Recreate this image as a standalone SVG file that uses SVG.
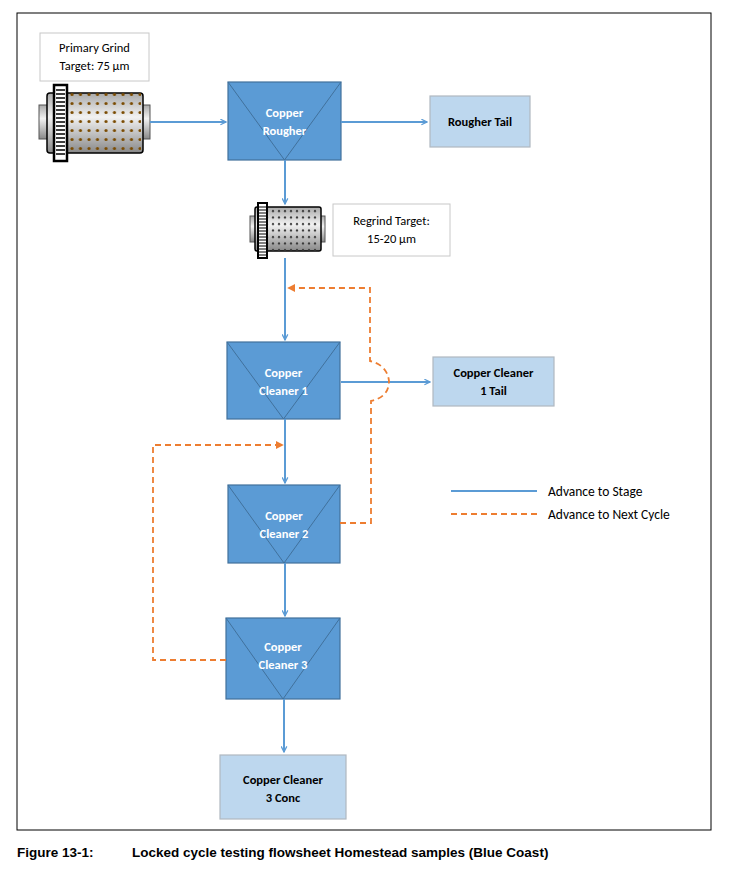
<svg xmlns="http://www.w3.org/2000/svg" width="730" height="876" viewBox="0 0 730 876">
<defs>
<style>
.cell{fill:#5b9bd5;stroke:#41719c;stroke-width:1.2}
.tri{fill:none;stroke:#41719c;stroke-width:1}
.wt{font-family:Calibri,"Carlito","Liberation Sans",sans-serif;font-weight:bold;font-size:12.5px;fill:#fff;text-anchor:middle}
.out{fill:#bdd7ee;stroke:#b0b8c0;stroke-width:1.2}
.bt{font-family:Calibri,"Carlito","Liberation Sans",sans-serif;font-weight:bold;font-size:12.5px;fill:#000;text-anchor:middle}
.lbl{fill:#fff;stroke:#c8c8c8;stroke-width:1}
.nt{font-family:Calibri,"Carlito","Liberation Sans",sans-serif;font-size:12.5px;fill:#000;text-anchor:middle}
.blue{stroke:#5b9bd5;stroke-width:2;fill:none}
.orange{stroke:#ed7d31;stroke-width:1.8;fill:none;stroke-dasharray:6,4}
</style>
<marker id="ab" viewBox="0 0 10 10" refX="9" refY="5" markerWidth="7" markerHeight="7" orient="auto" markerUnits="userSpaceOnUse"><path d="M1,1 L9,5 L1,9" fill="none" stroke="#5b9bd5" stroke-width="1.8"/></marker>
<marker id="ao" viewBox="0 0 10 10" refX="9" refY="5" markerWidth="8" markerHeight="8" orient="auto" markerUnits="userSpaceOnUse"><path d="M0,0 L10,5 L0,10 z" fill="#ed7d31"/></marker>
<linearGradient id="drum" x1="0" y1="0" x2="0" y2="1"><stop offset="0" stop-color="#aaa"/><stop offset="0.4" stop-color="#f2f2f2"/><stop offset="1" stop-color="#888"/></linearGradient>
<pattern id="dots" width="8.5" height="9" patternUnits="userSpaceOnUse"><circle cx="4" cy="4.5" r="1.6" fill="#7a4a00"/></pattern>
<pattern id="dots2" width="6" height="6.5" patternUnits="userSpaceOnUse"><circle cx="3" cy="3" r="1.1" fill="#333"/></pattern>
</defs>
<rect x="17" y="13" width="694" height="817" fill="none" stroke="#000" stroke-width="1"/>

<g id="primary-grind">
<rect class="lbl" x="40" y="33" width="109" height="48"/>
<text class="nt" x="94.5" y="52">Primary Grind</text>
<text class="nt" x="94.5" y="70">Target: 75 µm</text>
<rect x="39" y="105" width="10" height="34" fill="url(#drum)" stroke="#555"/>
<rect x="140" y="105" width="10" height="34" fill="url(#drum)" stroke="#555"/>
<rect x="47" y="93" width="96" height="60" rx="3" fill="url(#drum)" stroke="#000" stroke-width="1.5"/>
<rect x="68" y="93" width="73" height="60" fill="url(#dots)"/>
<rect x="54" y="85" width="13" height="76" fill="#fff" stroke="#000" stroke-width="2.5"/>
<path d="M56,90H65M56,94H65M56,98H65M56,102H65M56,106H65M56,110H65M56,114H65M56,118H65M56,122H65M56,126H65M56,130H65M56,134H65M56,138H65M56,142H65M56,146H65M56,150H65M56,154H65" stroke="#000" stroke-width="1.5"/>
</g>

<g id="rougher">
<rect class="cell" x="228" y="82" width="113" height="78"/>
<path class="tri" d="M228,82 L284.5,160 L341,82"/>
<text class="wt" x="284.5" y="117">Copper</text>
<text class="wt" x="284.5" y="135">Rougher</text>
</g>

<g id="rougher-tail">
<rect class="out" x="430" y="96" width="100" height="51"/>
<text class="bt" x="480" y="126">Rougher Tail</text>
</g>

<g id="regrind">
<rect x="250" y="216" width="7" height="26" fill="url(#drum)" stroke="#555"/>
<rect x="318" y="216" width="7" height="26" fill="url(#drum)" stroke="#555"/>
<rect x="255" y="207" width="66" height="44" rx="2" fill="url(#drum)" stroke="#000" stroke-width="1.5"/>
<rect x="267" y="207" width="52" height="44" fill="url(#dots2)"/>
<rect x="258" y="203" width="9" height="55" fill="#fff" stroke="#000" stroke-width="2"/>
<path d="M259,207H266M259,210H266M259,213H266M259,216H266M259,219H266M259,222H266M259,225H266M259,228H266M259,231H266M259,234H266M259,237H266M259,240H266M259,243H266M259,246H266M259,249H266M259,252H266M259,255H266" stroke="#000" stroke-width="1.2"/>
<rect class="lbl" x="333" y="204" width="117" height="52"/>
<text class="nt" x="391.5" y="225">Regrind Target:</text>
<text class="nt" x="391.5" y="243">15-20 µm</text>
</g>

<g id="cleaner1">
<rect class="cell" x="227" y="342" width="113" height="77"/>
<path class="tri" d="M227,342 L283.5,419 L340,342"/>
<text class="wt" x="283.5" y="377">Copper</text>
<text class="wt" x="283.5" y="395">Cleaner 1</text>
</g>

<g id="cleaner1-tail">
<rect class="out" x="433" y="357" width="121" height="49"/>
<text class="bt" x="493.5" y="377">Copper Cleaner</text>
<text class="bt" x="493.5" y="395">1 Tail</text>
</g>

<g id="cleaner2">
<rect class="cell" x="228" y="485" width="112" height="78"/>
<path class="tri" d="M228,485 L284,563 L340,485"/>
<text class="wt" x="284" y="520">Copper</text>
<text class="wt" x="284" y="538">Cleaner 2</text>
</g>

<g id="cleaner3">
<rect class="cell" x="226" y="618" width="114" height="81"/>
<path class="tri" d="M226,618 L283,699 L340,618"/>
<text class="wt" x="283" y="651">Copper</text>
<text class="wt" x="283" y="669">Cleaner 3</text>
</g>

<g id="cleaner3-conc">
<rect class="out" x="220" y="755" width="126" height="64"/>
<text class="bt" x="283" y="784">Copper Cleaner</text>
<text class="bt" x="283" y="802">3 Conc</text>
</g>

<g id="connectors">
<path class="blue" d="M150,122 H226" marker-end="url(#ab)"/>
<path class="blue" d="M341,122 H427" marker-end="url(#ab)"/>
<path class="blue" d="M285,160 V204" marker-end="url(#ab)"/>
<path class="blue" d="M285,258 V340" marker-end="url(#ab)"/>
<path class="blue" d="M341,382 H430" marker-end="url(#ab)"/>
<path class="blue" d="M285,419 V483" marker-end="url(#ab)"/>
<path class="blue" d="M285,563 V616" marker-end="url(#ab)"/>
<path class="blue" d="M284,699 V752" marker-end="url(#ab)"/>
<path class="orange" d="M340,523 H371 V401 Q389,397 389,381 Q387,365 370,361 V288 H288" marker-end="url(#ao)"/>
<path class="orange" d="M226,660 H153 V445 H283" marker-end="url(#ao)"/>
</g>

<g id="legend">
<path class="blue" d="M451,491 H537"/>
<text x="548" y="496" font-family="Calibri,Carlito,'Liberation Sans',sans-serif" font-size="13.5">Advance to Stage</text>
<path class="orange" d="M451,514 H537"/>
<text x="548" y="519" font-family="Calibri,Carlito,'Liberation Sans',sans-serif" font-size="13.5">Advance to Next Cycle</text>
</g>

<g id="caption" font-family="'Liberation Sans',Arial,sans-serif" font-weight="bold" font-size="13.5">
<text x="17" y="857">Figure 13-1:</text>
<text x="132" y="857">Locked cycle testing flowsheet Homestead samples (Blue Coast)</text>
</g>
</svg>
